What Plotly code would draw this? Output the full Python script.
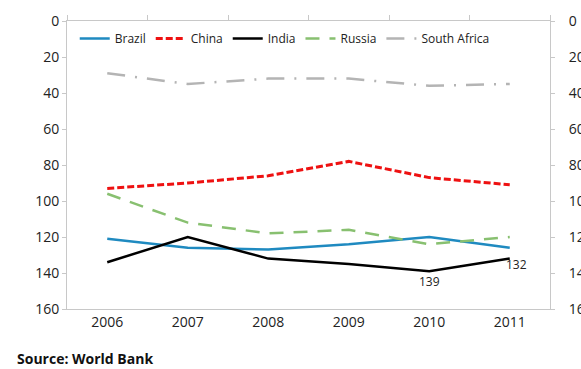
import plotly.graph_objects as go

years = ["2006", "2007", "2008", "2009", "2010", "2011"]
brazil = [121, 126, 127, 124, 120, 126]
china = [93, 90, 86, 78, 87, 91]
india = [134, 120, 132, 135, 139, 132]
russia = [96, 112, 118, 116, 124, 120]
south_africa = [29, 35, 32, 32, 36, 35]
label_idx = [4, 5]  # India points that carry a data label

FONT = "Open Sans"
fig = go.Figure()
fig.add_trace(go.Scatter(x=years, y=brazil, name="Brazil", mode="lines",
                         line=dict(color="#1f8ac0", width=2.5)))
fig.add_trace(go.Scatter(x=years, y=china, name="China", mode="lines",
                         line=dict(color="#ee1111", width=3, dash="7px,3px")))
fig.add_trace(go.Scatter(x=years, y=india, name="India", mode="lines",
                         line=dict(color="#000000", width=2.5)))
fig.add_trace(go.Scatter(x=years, y=russia, name="Russia", mode="lines",
                         line=dict(color="#88c070", width=2.5, dash="14px,10px")))
fig.add_trace(go.Scatter(x=years, y=south_africa, name="South Africa", mode="lines",
                         line=dict(color="#b4b4b4", width=2.5, dash="18px,10px,2px,10px")))
# invisible trace so the mirrored top / right axes are drawn
fig.add_trace(go.Scatter(x=years, y=brazil, xaxis="x2", yaxis="y2", mode="lines",
                         line=dict(width=0), opacity=0, showlegend=False,
                         hoverinfo="skip"))

annots = []
shifts = {4: (0, -10), 5: (7, -6)}
for i in label_idx:
    dx, dy = shifts[i]
    annots.append(dict(x=i, y=india[i], xref="x", yref="y", text=str(india[i]),
                       showarrow=False, xshift=dx, yshift=dy,
                       font=dict(family=FONT, size=12, color="#222")))
annots.append(dict(text="<b>Source: World Bank</b>", xref="paper", yref="paper",
                   x=-0.108, y=-0.172, xanchor="left", yanchor="middle",
                   showarrow=False, font=dict(family=FONT, size=14, color="#111")))

axcol = "#c8c8c8"
fig.update_layout(
    width=581, height=369,
    margin=dict(l=67, r=31, t=21, b=60, autoexpand=False),
    paper_bgcolor="white", plot_bgcolor="white",
    font=dict(family=FONT, size=14, color="#222"),
    showlegend=True,
    legend=dict(orientation="h", x=0.016, y=0.99, xanchor="left", yanchor="top",
                font=dict(family=FONT, size=12, color="#222"),
                bgcolor="rgba(0,0,0,0)", itemwidth=30, tracegroupgap=0),
    xaxis=dict(type="category", range=[-0.5, 5.5], showline=True, linecolor=axcol,
               linewidth=1, ticks="", showgrid=False, zeroline=False,
               automargin=False, tickfont=dict(size=14)),
    xaxis2=dict(type="category", overlaying="x", side="top", range=[-0.5, 5.5],
                anchor="y", showline=True, linecolor=axcol, ticks="outside",
                tickson="boundaries", ticklen=5, tickcolor=axcol, automargin=False,
                showticklabels=False, showgrid=False, zeroline=False),
    yaxis=dict(range=[160, 0], tickvals=list(range(0, 161, 20)), showline=True,
               linecolor=axcol, ticks="outside", ticklen=4, tickcolor=axcol,
               showgrid=False, zeroline=False, automargin=False,
               tickfont=dict(size=14)),
    yaxis2=dict(range=[160, 0], overlaying="y", side="right", anchor="x",
                tickvals=list(range(0, 161, 20)), showline=True, linecolor=axcol,
                ticks="outside", ticklen=4, tickcolor=axcol, showgrid=False,
                ticklabelstandoff=11,
                zeroline=False, automargin=False, tickfont=dict(size=14)),
    annotations=annots,
)
fig.write_html("out.html")
